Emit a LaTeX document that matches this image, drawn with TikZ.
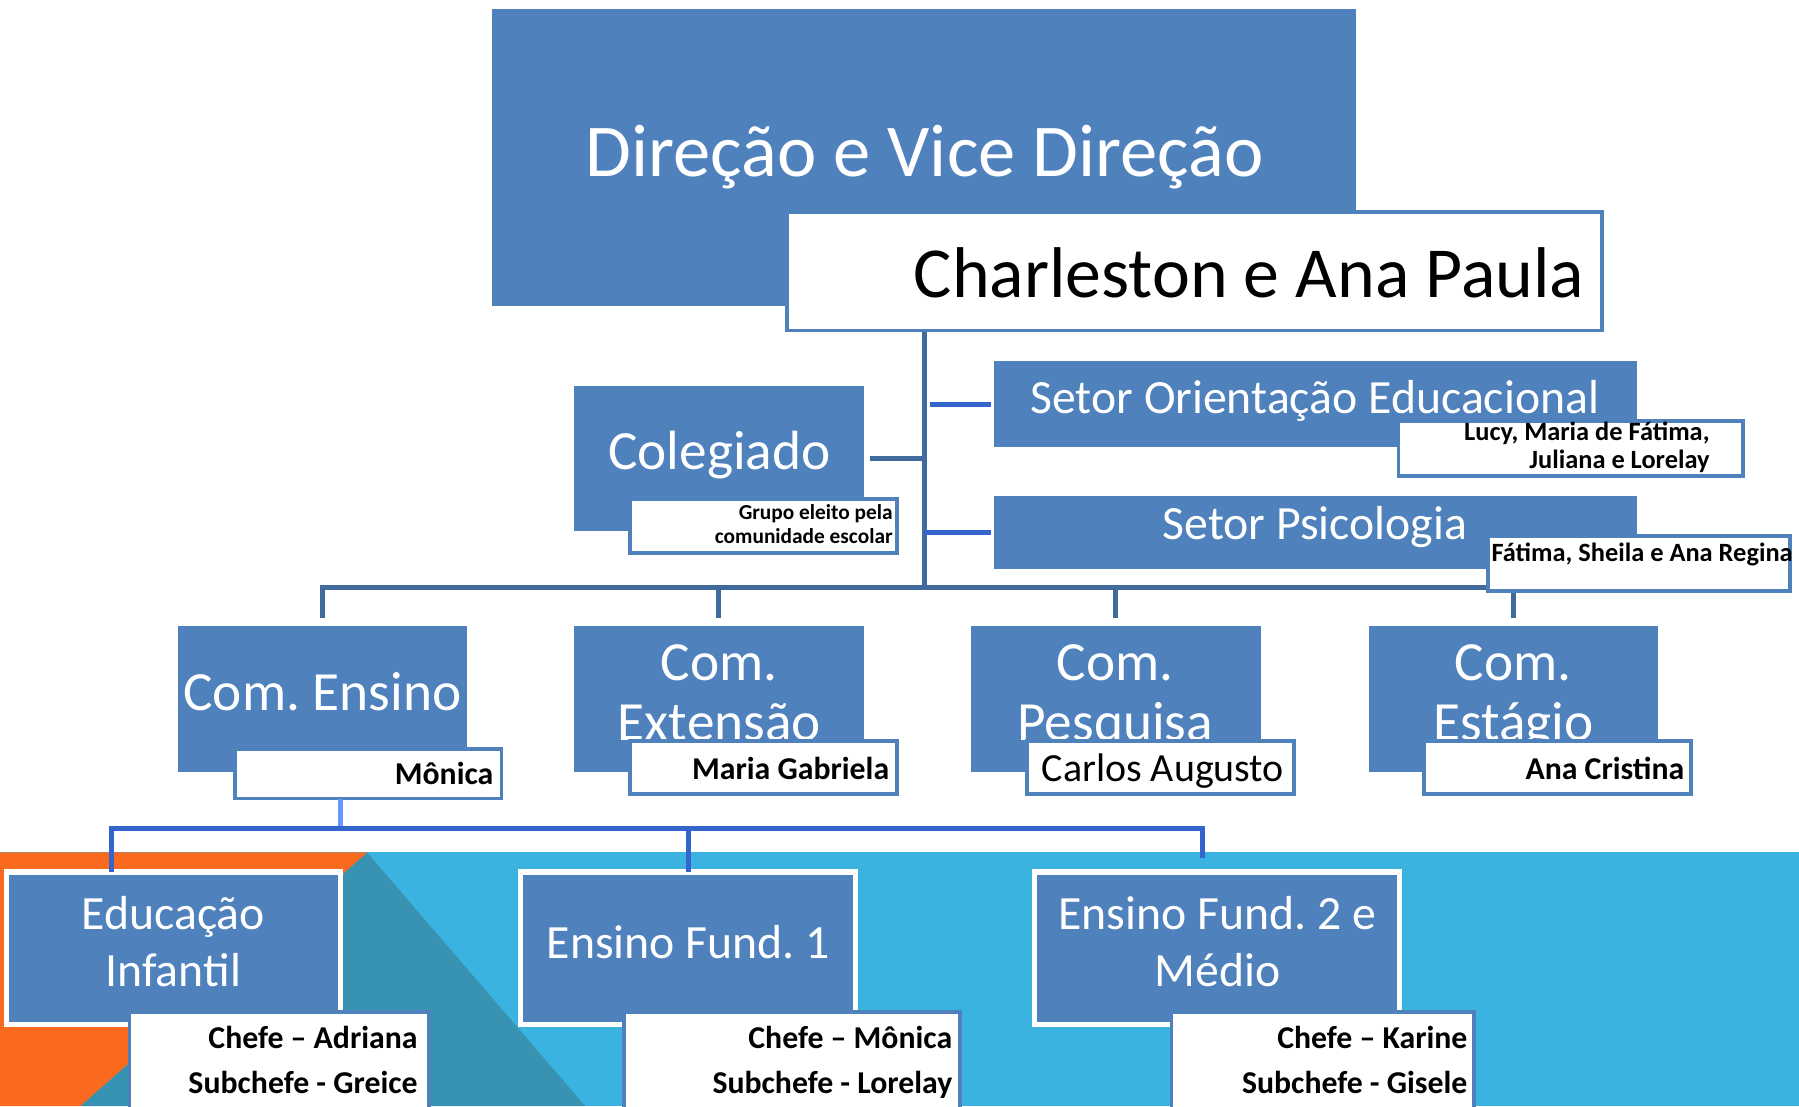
\documentclass[tikz,border=0pt]{standalone}
\usepackage{fontspec}
\setmainfont{Carlito}
\usetikzlibrary{fit}
\definecolor{boxblue}{RGB}{79,129,189}
\definecolor{darkline}{RGB}{64,106,155}
\definecolor{brightline}{RGB}{52,101,204}
\definecolor{lightline}{RGB}{102,153,255}
\definecolor{bgorange}{RGB}{250,106,30}
\definecolor{bglight}{RGB}{59,179,224}
\definecolor{bgteal}{RGB}{56,147,179}
\tikzset{
  bluebox/.style={fill=boxblue, inner sep=0pt, outer sep=0pt},
  framedbox/.style={fill=boxblue, draw=white, line width=2.2pt, inner sep=0pt, outer sep=0pt},
  whitebox/.style={fill=white, draw=boxblue, line width=1.6pt, inner sep=0pt, outer sep=0pt},
  txt/.style={inner sep=0pt, outer sep=0pt},
  bigw/.style={txt, text=white, font=\fontsize{32.5}{38}\selectfont},
  bigk/.style={txt, text=black, font=\fontsize{31.3}{38}\selectfont},
  midw/.style={txt, text=white, font=\fontsize{24.1}{26}\selectfont},
  setw/.style={txt, text=white, font=\fontsize{20.8}{25}\selectfont},
  sbold/.style={txt, text=black, font=\bfseries\fontsize{13.85}{19.5}\selectfont},
  carlos/.style={txt, text=black, font=\fontsize{17.4}{20}\selectfont},
  tbold/.style={txt, text=black, font=\bfseries\fontsize{11.5}{12}\selectfont},
  gbold/.style={txt, text=black, font=\bfseries\fontsize{9.3}{10.5}\selectfont},
  dline/.style={draw=darkline, line width=2.2pt},
  bline/.style={draw=brightline, line width=2pt},
  lline/.style={draw=lightline, line width=2pt}
}
\frenchspacing
\begin{document}
\begin{tikzpicture}[x=0.5pt,y=-0.5pt]
\path[use as bounding box] (0,0) rectangle (1568,964);
\clip (0,0) rectangle (1568,964);
% background band
\fill[bglight] (0,743) rectangle (1568,964);
\fill[bgteal] (320,743) -- (510,964) -- (70,964) -- cycle;
\fill[bgorange] (0,743) -- (320,743) -- (70,964) -- (0,964) -- cycle;

% boxes (geometry)
\node[bluebox, fit={(429,8)(1182,267)}] (dir) {};
\node[bluebox, fit={(500,336)(753,463)}] (coleg) {};
\node[bluebox, fit={(866,315)(1427,390)}] (sorient) {};
\node[bluebox, fit={(866,432)(1427,496)}] (spsi) {};
\node[bluebox, fit={(155,546)(407,673)}] (censino) {};
\node[bluebox, fit={(500,546)(753,673)}] (cext) {};
\node[bluebox, fit={(846,546)(1099,673)}] (cpesq) {};
\node[bluebox, fit={(1193,546)(1445,673)}] (cest) {};

% connectors (upper tree)
\coordinate (trunkTop) at (805.5,288);
\coordinate (bus) at (805.5,512);
\draw[dline] (trunkTop) -- (bus);
\draw[dline, line join=miter] ([yshift=3.5pt]censino.north) -- (censino.north |- bus) -- (cest.north |- bus) -- ([yshift=3.5pt]cest.north);
\draw[dline, shorten >=3.5pt] (cext.north |- bus) -- (cext.north);
\draw[dline, shorten >=3.5pt] (cpesq.north |- bus) -- (cpesq.north);
\draw[dline, shorten <=2.5pt] (coleg.east) -- (coleg.east -| bus);
\draw[bline, shorten <=2.5pt, shorten >=1pt] (sorient.west -| bus) -- (sorient.west);
\draw[bline, shorten >=1pt] (bus |- spsi.west) -- (spsi.west);

% texts in blue boxes
\node[bigw, anchor=base] (dirT) at (806,154) {Direção e Vice Direção};
\node[midw, anchor=base] (colegT) at (627,409) {Colegiado};
\node[setw, anchor=base] (sorientT) at (1146,360) {Setor Orientação Educacional};
\node[setw, anchor=base] (spsiT) at (1146,470) {Setor Psicologia};
\node[midw, anchor=base] (censinoT) at (281,619) {Com. Ensino};
\node[midw, anchor=base] (cextT1) at (627,593) {Com.};
\node[midw, anchor=base] (cextT2) at (627,645) {Extensão};
\node[midw, anchor=base] (cpesqT1) at (972,593) {Com.};
\node[midw, anchor=base] (cpesqT2) at (972,645) {Pesquisa};
\node[midw, anchor=base] (cestT1) at (1319,593) {Com.};
\node[midw, anchor=base] (cestT2) at (1319,645) {Estágio};

% white name boxes
\node[whitebox, fit={(686,185)(1396,288)}] (charl) {};
\node[bigk, anchor=base east] (charlT) at (1381,259) {Charleston e Ana Paula};
\node[whitebox, fit={(549,435)(782,482)}] (colegW) {};
\node[gbold, anchor=base east] (grupo1) at (778,453) {Grupo eleito pela};
\node[gbold, anchor=base east] (grupo2) at (778,474) {comunidade escolar};
\node[whitebox, fit={(1219,367)(1519,415)}] (sorientW) {};
\node[tbold, anchor=base east] (lucy1) at (1490,384) {Lucy, Maria de Fátima,};
\node[tbold, anchor=base east] (lucy2) at (1490,408) {Juliana e Lorelay};
\node[whitebox, fit={(1297,467)(1560,515)}] (spsiW) {};
\node[tbold, anchor=base west] (fatimaT) at (1300,489) {Fátima, Sheila e Ana Regina};
\node[whitebox, fit={(205,653)(437,696)}] (censinoW) {};
\node[sbold, anchor=base east] (monicaT) at (430,684) {Mônica};
\node[whitebox, fit={(549,646)(782,692)}] (cextW) {};
\node[sbold, anchor=base east] (mariaT) at (775,679) {Maria Gabriela};
\node[whitebox, fit={(895,646)(1128,692)}] (cpesqW) {};
\node[carlos, anchor=base west] (carlosT) at (908,681) {Carlos Augusto};
\node[whitebox, fit={(1241,646)(1474,692)}] (cestW) {};
\node[sbold, anchor=base east] (anaT) at (1468,679) {Ana Cristina};

% lower tree
\node[framedbox, fit={(6,760)(297,893)}] (educ) {};
\node[framedbox, fit={(454,760)(746,893)}] (ef1) {};
\node[framedbox, fit={(902,760)(1220,893)}] (ef2) {};
\coordinate (b2J) at (297,722);
\coordinate (b2L) at (97,722);
\coordinate (b2M) at (600,722);
\coordinate (b2R) at (1048,722);
\draw[lline] (censinoW.south -| b2J) -- (b2J);
\draw[bline, line join=miter] (b2L |- educ.north) -- (b2L) -- (b2R) -- ++(0,26);
\draw[bline] (b2M) -- (b2M |- ef1.north);

\node[setw, anchor=base] (educT1) at (151,810) {Educação};
\node[setw, anchor=base] (educT2) at (151,860) {Infantil};
\node[setw, anchor=base] (ef1T) at (600,835) {Ensino Fund. 1};
\node[setw, anchor=base] (ef2T1) at (1061,810) {Ensino Fund. 2 e};
\node[setw, anchor=base] (ef2T2) at (1061,860) {Médio};

\node[whitebox, fit={(113,882)(374,990)}] (educW) {};
\node[sbold, anchor=base east] (chefeA1) at (364,914) {Chefe – Adriana};
\node[sbold, anchor=base east] (chefeA2) at (364,953) {Subchefe - Greice};
\node[whitebox, fit={(544,882)(837,990)}] (ef1W) {};
\node[sbold, anchor=base east] (chefeM1) at (830,914) {Chefe – Mônica};
\node[sbold, anchor=base east] (chefeM2) at (830,953) {Subchefe - Lorelay};
\node[whitebox, fit={(1021,882)(1285,990)}] (ef2W) {};
\node[sbold, anchor=base east] (chefeK1) at (1279,914) {Chefe – Karine};
\node[sbold, anchor=base east] (chefeK2) at (1279,953) {Subchefe - Gisele};
\end{tikzpicture}
\end{document}
